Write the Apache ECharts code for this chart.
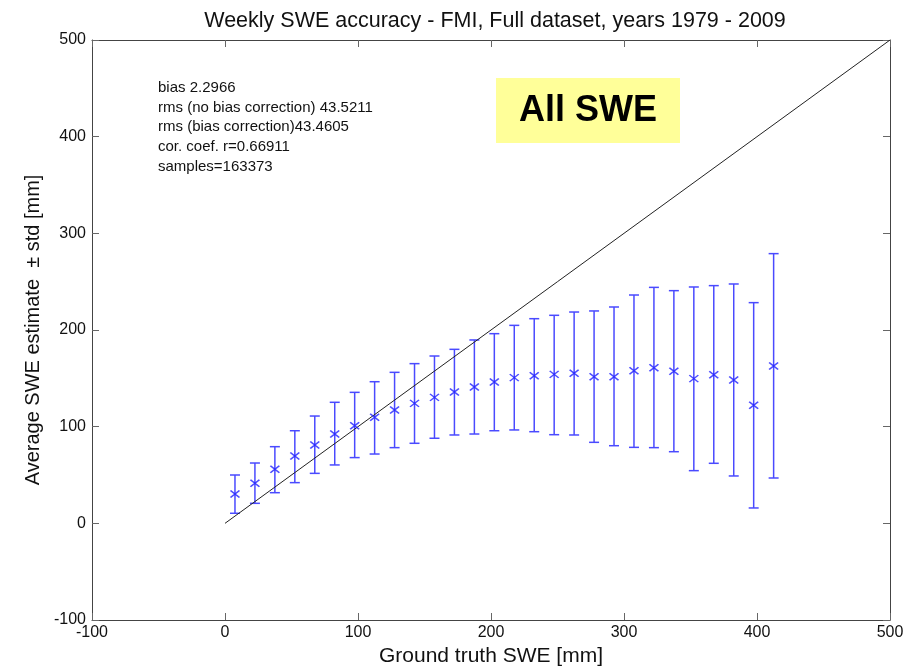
<!DOCTYPE html>
<html>
<head>
<meta charset="utf-8">
<title>Weekly SWE accuracy</title>
<script src="https://cdn.jsdelivr.net/npm/echarts@6/dist/echarts.min.js"></script>
<style>
  html, body { margin: 0; padding: 0; background: #fff; }
  #chart { width: 918px; height: 666px; }
</style>
</head>
<body>
<div id="chart"></div>
<script>
// ground truth bin centres [mm]
var groundTruth = [7.5, 22.5, 37.5, 52.5, 67.5, 82.5, 97.5, 112.5, 127.5, 142.5,
  157.5, 172.5, 187.5, 202.5, 217.5, 232.5, 247.5, 262.5, 277.5, 292.5,
  307.5, 322.5, 337.5, 352.5, 367.5, 382.5, 397.5, 412.5];

// average SWE estimate per bin [mm]
var meanEstimate = [30.4, 41.4, 55.9, 69.7, 81, 92.4, 101, 109.7, 117.2, 124.1,
  130.3, 135.9, 141, 146.2, 150.7, 152.7, 154.1, 155.2, 151.7, 151.7,
  157.9, 161, 157.3, 149.7, 153.8, 148.3, 122.1, 162.8];

// mean - std
var lowerEstimate = [10.4, 20.7, 31.7, 42.1, 51.7, 60.4, 68, 71.7, 78.3, 82.8,
  88, 91.4, 92.4, 95.8, 96.6, 94.8, 91.7, 91.4, 83.8, 80.3,
  78.6, 78.3, 74.1, 54.5, 62.1, 49, 15.9, 46.9];

// mean + std
var upperEstimate = [50, 62.4, 79.3, 95.8, 111, 125.2, 135.5, 146.5, 156.2, 165.2,
  173.1, 180, 189.7, 196.2, 204.8, 211.7, 215.2, 218.6, 219.7, 223.8,
  236.2, 244.1, 240.7, 244.5, 245.9, 247.6, 228.3, 279];

// 1:1 line
var oneToOne = [[0, 0], [500, 500]];

var statsLines = [
  'bias 2.2966',
  'rms (no bias correction) 43.5211',
  'rms (bias correction)43.4605',
  'cor. coef. r=0.66911',
  'samples=163373'
];

var narrowFont = "'Liberation Sans Narrow', 'Arial Narrow', 'Liberation Sans', Arial, sans-serif";
var plainFont = "'Liberation Sans', Arial, sans-serif";
var barColor = '#4a4aff';

var meanData = groundTruth.map(function (x, i) { return [x, meanEstimate[i]]; });
var barData = groundTruth.map(function (x, i) { return [x, lowerEstimate[i], upperEstimate[i]]; });

function renderErrorBar(params, api) {
  var x = api.value(0);
  var lo = api.coord([x, api.value(1)]);
  var hi = api.coord([x, api.value(2)]);
  var hw = 5;
  var style = { stroke: barColor, lineWidth: 1.5 };
  return {
    type: 'group',
    children: [
      { type: 'line', shape: { x1: lo[0], y1: lo[1], x2: hi[0], y2: hi[1] }, style: style },
      { type: 'line', shape: { x1: lo[0] - hw, y1: lo[1], x2: lo[0] + hw, y2: lo[1] }, style: style },
      { type: 'line', shape: { x1: hi[0] - hw, y1: hi[1], x2: hi[0] + hw, y2: hi[1] }, style: style }
    ]
  };
}

// matlab style box: axis lines on all four sides, ticks pointing in
var axisLine = { show: true, onZero: false, lineStyle: { color: '#444', width: 1 } };
var axisTick = { show: true, inside: true, length: 7, lineStyle: { color: '#666', width: 1 } };

var chart = echarts.init(document.getElementById('chart'));

var option = {
  animation: false,
  backgroundColor: '#fff',
  title: {
    text: 'Weekly SWE accuracy - FMI, Full dataset, years 1979 - 2009',
    left: 490,
    top: 5,
    textAlign: 'center',
    textStyle: { fontFamily: narrowFont, fontSize: 21.5, fontWeight: 'normal', color: '#111' }
  },
  grid: { left: 92, right: 28, top: 40, bottom: 46, containLabel: false, outerBoundsMode: 'none' },
  xAxis: [{
    type: 'value', min: -100, max: 500, interval: 100,
    name: 'Ground truth SWE [mm]', nameLocation: 'middle', nameGap: 21,
    nameTextStyle: { fontFamily: narrowFont, fontSize: 21, color: '#111' },
    axisLine: axisLine, axisTick: axisTick, splitLine: { show: false },
    axisLabel: { margin: 5, fontFamily: plainFont, fontSize: 16, color: '#111' }
  }, {
    type: 'value', position: 'top', min: -100, max: 500, interval: 100,
    axisLine: axisLine, axisTick: axisTick, splitLine: { show: false },
    axisLabel: { show: false }
  }],
  yAxis: [{
    type: 'value', min: -100, max: 500, interval: 100,
    name: 'Average SWE estimate  \u00b1 std [mm]', nameLocation: 'middle', nameGap: 48,
    nameRotate: 90,
    nameTextStyle: { fontFamily: narrowFont, fontSize: 20, color: '#111' },
    axisLine: axisLine, axisTick: axisTick, splitLine: { show: false },
    axisLabel: { margin: 6, fontFamily: plainFont, fontSize: 16, color: '#111' }
  }, {
    type: 'value', position: 'right', min: -100, max: 500, interval: 100,
    axisLine: axisLine, axisTick: axisTick, splitLine: { show: false },
    axisLabel: { show: false }
  }],
  graphic: [{
    type: 'text', left: 158, top: 78, silent: true,
    style: {
      text: statsLines.join('\n'),
      fontFamily: plainFont, fontSize: 15, lineHeight: 19.7, fill: '#111'
    }
  }, {
    type: 'group', left: 496, top: 78, silent: true,
    children: [{
      type: 'rect', shape: { x: 0, y: 0, width: 184, height: 65 },
      style: { fill: '#ffff99' }
    }, {
      type: 'text', x: 92, y: 33,
      style: {
        text: 'All SWE', fontFamily: plainFont, fontSize: 36, fontWeight: 'bold',
        fill: '#000', align: 'center', verticalAlign: 'middle'
      }
    }]
  }],
  series: [{
    type: 'line',
    data: oneToOne,
    symbol: 'none',
    lineStyle: { color: '#222', width: 1 },
    silent: true
  }, {
    type: 'custom',
    data: barData,
    renderItem: renderErrorBar,
    encode: { x: 0, y: [1, 2] },
    silent: true,
    z: 3
  }, {
    type: 'scatter',
    data: meanData,
    symbol: 'path://M0,0L10,10M10,0L0,10',
    symbolSize: [9, 7],
    itemStyle: { color: 'none', borderColor: '#2020ff', borderWidth: 1.5 },
    silent: true,
    z: 4
  }]
};

chart.setOption(option);
</script>
</body>
</html>
